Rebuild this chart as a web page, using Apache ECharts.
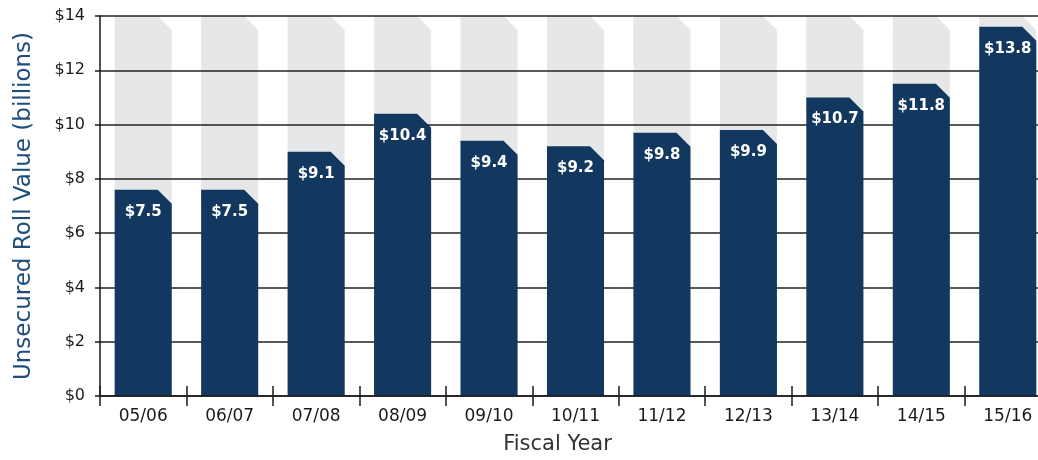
<!DOCTYPE html>
<html>
<head>
<meta charset="utf-8">
<script src="https://cdn.jsdelivr.net/npm/echarts@6/dist/echarts.min.js"></script>
<style>
html,body{margin:0;padding:0;background:#fff;overflow:hidden;width:1038px;height:460px;}
#chart{width:1051px;height:460px;}
</style>
</head>
<body>
<div id="chart"></div>
<script>
// Data
const categories = ['05/06','06/07','07/08','08/09','09/10','10/11','11/12','12/13','13/14','14/15','15/16'];
const labelValues = [7.5, 7.5, 9.1, 10.4, 9.4, 9.2, 9.8, 9.9, 10.7, 11.8, 13.8];   // printed labels
const barHeights  = [7.6, 7.6, 9.0, 10.4, 9.4, 9.2, 9.7, 9.8, 11.0, 11.5, 13.6];   // drawn heights
const yMax = 14;
const yTicks = [0, 2, 4, 6, 8, 10, 12, 14];

const NAVY = '#12385f';
const GREY = '#e6e7e9';
const CUT = 14;

function shape(api, value, fill, label) {
  const idx = api.value(0);
  const base = api.coord([idx, 0]);
  const top = api.coord([idx, value]);
  const band = api.size([1, 0])[0];
  const w = band * 0.66;
  const x0 = base[0] - w / 2, x1 = base[0] + w / 2;
  const children = [{
    type: 'polygon',
    shape: { points: [[x0, base[1]], [x0, top[1]], [x1 - CUT, top[1]], [x1, top[1] + CUT], [x1, base[1]]] },
    style: { fill: fill }
  }];
  if (label) {
    children.push({
      type: 'text',
      x: base[0], y: top[1] + 22,
      style: {
        text: label, fill: '#ffffff', font: 'bold 15px "DejaVu Sans"',
        align: 'center', verticalAlign: 'middle'
      }
    });
  }
  return { type: 'group', children: children };
}

const chart = echarts.init(document.getElementById('chart'), null, { renderer: 'canvas' });
chart.setOption({
  animation: false,
  backgroundColor: '#ffffff',
  grid: { left: 100, top: 16, right: 0, bottom: 62, containLabel: false },
  xAxis: [{
    type: 'category',
    data: categories,
    boundaryGap: true,
    z: 3,
    axisLine: { show: true, lineStyle: { color: '#1a1a1a', width: 1.5 } },
    axisTick: { show: true, length: 10, inside: false, lineStyle: { color: '#1a1a1a', width: 1.5 } },
    axisLabel: { margin: 12, color: '#1a1a1a', fontSize: 17, fontFamily: 'DejaVu Sans' },
    name: 'Fiscal Year',
    nameLocation: 'middle',
    nameGap: 38,
    nameTextStyle: { color: '#333', fontSize: 21, fontFamily: 'DejaVu Sans', padding: [0, 36, 0, 0] }
  }, {
    type: 'category',
    data: categories,
    position: 'bottom',
    boundaryGap: true,
    z: 3,
    axisLine: { show: false },
    axisTick: { show: true, length: 10, inside: true, lineStyle: { color: '#1a1a1a', width: 1.5 } },
    axisLabel: { show: false }
  }],
  yAxis: {
    type: 'value',
    min: 0, max: yMax, interval: 2,
    axisLine: { show: true, lineStyle: { color: '#1a1a1a', width: 1.5 } },
    axisTick: { show: true, length: 5, lineStyle: { color: '#1a1a1a', width: 1.5 } },
    splitLine: { show: true, lineStyle: { color: '#222', width: 1.5 } },
    axisLabel: {
      margin: 15, color: '#1a1a1a', fontSize: 16, fontFamily: 'DejaVu Sans',
      formatter: v => yTicks.includes(v) ? '$' + v : ''
    },
    name: 'Unsecured Roll Value (billions)',
    nameLocation: 'middle',
    nameGap: 64,
    nameTextStyle: { color: '#1d4d7c', fontSize: 23, fontFamily: 'DejaVu Sans' }
  },
  series: [{
    type: 'custom',
    z: -1,
    silent: true,
    data: categories.map((c, i) => [i, yMax]),
    encode: { x: 0, y: 1 },
    renderItem: (params, api) => shape(api, api.value(1), GREY, null)
  }, {
    type: 'custom',
    z: 2,
    data: categories.map((c, i) => [i, barHeights[i], labelValues[i]]),
    encode: { x: 0, y: 1 },
    renderItem: (params, api) => shape(api, api.value(1), NAVY, '$' + api.value(2).toFixed(1))
  }]
});
</script>
</body>
</html>
